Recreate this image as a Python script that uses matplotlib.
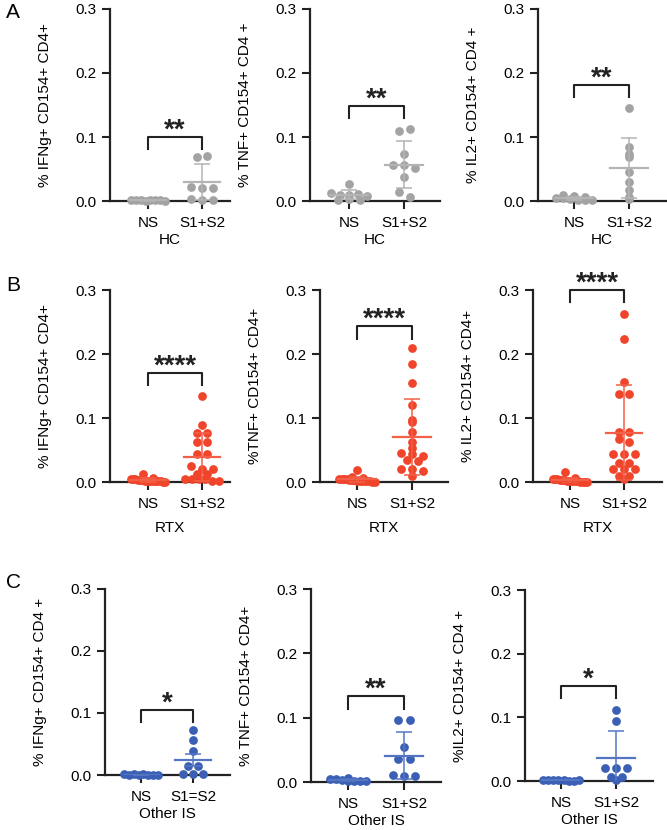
import numpy as np
import matplotlib
matplotlib.use("Agg")
import matplotlib.pyplot as plt

plt.rcParams['font.family'] = ['Liberation Sans', 'DejaVu Sans']

W, H = 667, 830

# ---- data (fraction of CD4+ cells, %) ----
groups = ['NS', 'S1+S2']
cohorts = ['HC', 'RTX', 'Other IS']

# HC
hc_ifng_ns = [0.002, 0.001, 0.002, 0.0, 0.001, 0.002, 0.001, 0.0]
hc_ifng_s = [0.068, 0.071, 0.022, 0.021, 0.020, 0.003, 0.002, 0.002]
hc_tnf_ns = [0.027, 0.012, 0.010, 0.009, 0.011, 0.008, 0.002, 0.003, 0.001]
hc_tnf_s = [0.109, 0.113, 0.073, 0.057, 0.057, 0.051, 0.038, 0.014, 0.007]
hc_il2_ns = [0.010, 0.008, 0.006, 0.005, 0.004, 0.003, 0.002, 0.001, 0.002]
hc_il2_s = [0.146, 0.085, 0.073, 0.069, 0.046, 0.030, 0.017, 0.003, 0.007]

# RTX
rtx_ifng_ns = [0.013, 0.006, 0.005, 0.004, 0.004, 0.003, 0.003, 0.003, 0.002,
               0.002, 0.002, 0.002, 0.001, 0.001, 0.001, 0.001, 0.0, 0.0]
rtx_ifng_s = [0.134, 0.089, 0.077, 0.077, 0.063, 0.063, 0.043, 0.043, 0.025, 0.020,
              0.020, 0.012, 0.012, 0.005, 0.005, 0.004, 0.004, 0.002, 0.002]
rtx_tnf_ns = [0.018, 0.008, 0.006, 0.005, 0.005, 0.004, 0.004, 0.003, 0.003,
              0.003, 0.002, 0.002, 0.002, 0.001, 0.001, 0.001, 0.0, 0.0]
rtx_tnf_s = [0.210, 0.184, 0.154, 0.120, 0.097, 0.093, 0.078, 0.062, 0.053,
             0.045, 0.043, 0.041, 0.035, 0.033, 0.021, 0.020, 0.017, 0.010]
rtx_il2_ns = [0.016, 0.006, 0.005, 0.004, 0.004, 0.003, 0.003, 0.003, 0.002,
              0.002, 0.002, 0.001, 0.001, 0.001, 0.0, 0.0, 0.0, 0.0]
rtx_il2_s = [0.263, 0.224, 0.157, 0.137, 0.137, 0.078, 0.078, 0.067, 0.062, 0.043,
             0.043, 0.043, 0.030, 0.030, 0.020, 0.020, 0.020, 0.010, 0.010, 0.004]

# Other IS
ois_ifng_ns = [0.001, 0.0, 0.001, 0.0, 0.001, 0.0, 0.0, 0.0]
ois_ifng_s = [0.072, 0.057, 0.038, 0.014, 0.014, 0.002, 0.002, 0.002]
ois_tnf_ns = [0.006, 0.004, 0.004, 0.003, 0.002, 0.002, 0.001, 0.001]
ois_tnf_s = [0.097, 0.097, 0.054, 0.036, 0.036, 0.011, 0.009, 0.009]
ois_il2_ns = [0.002, 0.002, 0.001, 0.001, 0.001, 0.0, 0.0, 0.001]
ois_il2_s = [0.112, 0.095, 0.020, 0.020, 0.020, 0.007, 0.007, 0.002]

# mean line and error bar half-width as drawn (NS, S1+S2)
means = [[(0.001, 0.030), (0.010, 0.057), (0.004, 0.052)],
         [(0.003, 0.039), (0.004, 0.070), (0.003, 0.077)],
         [(0.000, 0.024), (0.003, 0.041), (0.001, 0.036)]]
errs = [[(0.001, 0.028), (0.007, 0.037), (0.003, 0.047)],
        [(0.003, 0.037), (0.004, 0.059), (0.004, 0.074)],
        [(0.000, 0.010), (0.001, 0.037), (0.000, 0.043)]]

ylabels = [['% IFNg+ CD154+ CD4+', '% TNF+ CD154+ CD4 +', '% IL2+ CD154+ CD4 +'],
           ['% IFNg+ CD154+ CD4+', '%TNF+ CD154+ CD4+', '% IL2+ CD154+ CD4+'],
           ['% IFNg+ CD154+ CD4 +', '% TNF+ CD154+ CD4+', '%IL2+ CD154+ CD4 +']]
stars = [['**', '**', '**'], ['****', '****', '****'], ['*', '**', '*']]
bracket_y = [[0.100, 0.148, 0.182], [0.170, 0.243, 0.300], [0.105, 0.133, 0.150]]

data = [[(hc_ifng_ns, hc_ifng_s), (hc_tnf_ns, hc_tnf_s), (hc_il2_ns, hc_il2_s)],
        [(rtx_ifng_ns, rtx_ifng_s), (rtx_tnf_ns, rtx_tnf_s), (rtx_il2_ns, rtx_il2_s)],
        [(ois_ifng_ns, ois_ifng_s), (ois_tnf_ns, ois_tnf_s), (ois_il2_ns, ois_il2_s)]]

dot_col = ['#a3a3a3', '#f0452b', '#3b5fb4']
bar_col = ['#b4b4b4', '#f26048', '#5476c2']

# axes boxes in pixels: left, top(0.3), bottom(0.0), right, x of NS, x of S1+S2
boxes = [[(110, 9, 201, 230, 148, 202), (310, 9, 201, 440, 349, 404), (538, 9, 201, 666, 574, 629)],
         [(110, 290, 482, 230, 148, 202), (320, 290, 482, 448, 357, 412), (533, 290, 482, 662, 570, 624)],
         [(105, 589, 775, 230, 141, 193), (311, 589, 782, 441, 348, 404), (525, 590, 781, 653, 561, 616)]]
xlab_pad = [2, 7, 2]


def swarm(vals, maxw, binw=0.011, step=0.2):
    # spread points that sit at about the same height
    vals = np.asarray(vals, float)
    off = np.zeros(len(vals))
    bins = np.round(vals / binw).astype(int)
    for b in np.unique(bins):
        idx = np.where(bins == b)[0]
        n = len(idx)
        if n > 1:
            st = min(step, 2 * maxw / (n - 1))
            off[idx] = (np.arange(n) - (n - 1) / 2) * st
    return off


fig = plt.figure(figsize=(W / 100, H / 100), dpi=100)

for r in range(3):
    for c in range(3):
        l, t, b, rr, xns, xs = boxes[r][c]
        ax = fig.add_axes([l / W, 1 - b / H, (rr - l) / W, (b - t) / H])
        unit = xs - xns
        ax.set_xlim(-(xns - l) / unit, (rr - xns) / unit)
        ax.set_ylim(0, 0.3)

        for g in range(2):
            v = data[r][c][g]
            xo = swarm(v, 0.32)
            ax.plot(g + xo, v, 'o', ms=6.3, color=dot_col[r], mec='none',
                    clip_on=False, zorder=3)
            m = means[r][c][g]
            e = errs[r][c][g]
            ax.plot([g - 0.34, g + 0.34], [m, m], color=bar_col[r], lw=1.6, zorder=4)
            ax.errorbar(g, m, yerr=e, fmt='none', ecolor=bar_col[r], elinewidth=1.1,
                        capsize=6, capthick=1.1, zorder=4)

        # significance bracket
        by = bracket_y[r][c]
        ax.plot([0, 0, 1, 1], [by - 0.019, by, by, by - 0.019], color='#222222',
                lw=1.5, clip_on=False, zorder=5)
        ax.text(0.5, by - 0.001, stars[r][c], ha='center', va='baseline',
                fontsize=20, fontweight='bold', color='#222222', clip_on=False)

        ax.set_yticks([0.0, 0.1, 0.2, 0.3])
        ax.set_yticklabels(['0.0', '0.1', '0.2', '0.3'])
        ax.set_xticks([0, 1])
        ax.set_xticklabels(['NS', 'S1=S2' if (r == 2 and c == 0) else 'S1+S2'])
        ax.set_ylabel(ylabels[r][c], fontsize=11, labelpad=17)
        ax.set_xlabel(cohorts[r], fontsize=11, labelpad=xlab_pad[r])
        ax.tick_params(labelsize=11, width=1.5, length=6, color='#222222')
        ax.tick_params(axis='x', pad=5)
        for s in ['top', 'right']:
            ax.spines[s].set_visible(False)
        for s in ['left', 'bottom']:
            ax.spines[s].set_linewidth(1.6)
            ax.spines[s].set_color('#222222')

# panel letters
fig.text(6 / W, 1 - 13 / H, 'A', fontsize=15, va='center', ha='left')
fig.text(6 / W, 1 - 285 / H, 'B', fontsize=15, va='center', ha='left')
fig.text(6 / W, 1 - 582 / H, 'C', fontsize=15, va='center', ha='left')

fig.savefig('out.png', dpi=100)
